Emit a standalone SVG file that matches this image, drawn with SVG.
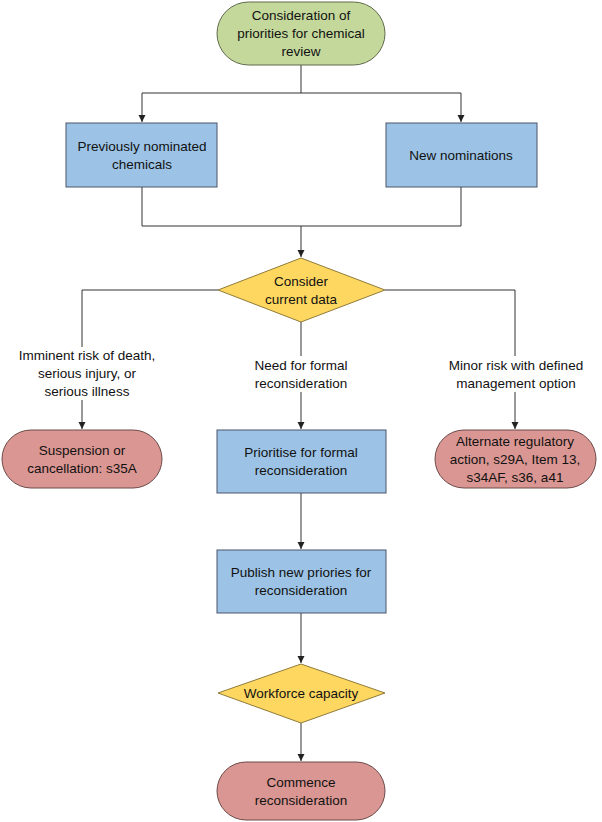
<svg xmlns="http://www.w3.org/2000/svg" width="602" height="822" viewBox="0 0 602 822">
<style>
text{font-family:"Liberation Sans",Arial,sans-serif;font-size:13.5px;fill:#111;text-anchor:middle;dominant-baseline:central}
.g{fill:#c4d89c;stroke:#5f6b4a;stroke-width:1}
.b{fill:#9cc3e5;stroke:#4a5568;stroke-width:1}
.y{fill:#fed760;stroke:#8f7b3a;stroke-width:1}
.r{fill:#da9692;stroke:#6b4a48;stroke-width:1}
.c{fill:none;stroke:#333;stroke-width:1}
</style>
<defs><marker id="a" markerWidth="8" markerHeight="8" refX="7" refY="4" orient="auto" markerUnits="userSpaceOnUse"><path d="M0,0.5 L7,4 L0,7.5 Z" fill="#222"/></marker></defs>
<rect width="602" height="822" fill="#fff"/>
<g id="connectors">
<path class="c" d="M301,65 V93 M142,93 H461"/>
<path class="c" d="M142,93 V122" marker-end="url(#a)"/>
<path class="c" d="M461,93 V122" marker-end="url(#a)"/>
<path class="c" d="M142,187 V226 H461 V187"/>
<path class="c" d="M301,226 V257" marker-end="url(#a)"/>
<path class="c" d="M218,290 H82 V347 M82,400 V429" marker-end="url(#a)"/>
<path class="c" d="M385,290 H515 V356 M515,392 V429" marker-end="url(#a)"/>
<path class="c" d="M301,322 V356 M301,392 V429" marker-end="url(#a)"/>
<path class="c" d="M301,493 V549" marker-end="url(#a)"/>
<path class="c" d="M301,613 V663" marker-end="url(#a)"/>
<path class="c" d="M301,723 V761" marker-end="url(#a)"/>
</g>
<g id="start"><rect class="g" x="217" y="2" width="168" height="63" rx="31.5"/><text x="301" y="15">Consideration of</text><text x="301" y="33">priorities for chemical</text><text x="301" y="51">review</text></g>
<g id="prev"><rect class="b" x="66" y="123" width="151" height="64"/><text x="142" y="146">Previously nominated</text><text x="142" y="164">chemicals</text></g>
<g id="new"><rect class="b" x="386" y="123" width="151" height="64"/><text x="461" y="155">New nominations</text></g>
<g id="consider"><polygon class="y" points="301,258 385,290 301,322 218,290"/><text x="301" y="281">Consider</text><text x="301" y="299">current data</text></g>
<g id="lbl1"><text x="87" y="355">Imminent risk of death,</text><text x="87" y="373">serious injury, or</text><text x="87" y="391">serious illness</text></g>
<g id="lbl2"><text x="301" y="365">Need for formal</text><text x="301" y="383">reconsideration</text></g>
<g id="lbl3"><text x="516" y="365">Minor risk with defined</text><text x="516" y="383">management option</text></g>
<g id="susp"><rect class="r" x="2" y="430" width="160" height="58" rx="29"/><text x="82" y="450">Suspension or</text><text x="82" y="468">cancellation: s35A</text></g>
<g id="prio"><rect class="b" x="217" y="430" width="169" height="63"/><text x="301" y="452">Prioritise for formal</text><text x="301" y="470">reconsideration</text></g>
<g id="alt"><rect class="r" x="435" y="430" width="161" height="58" rx="29"/><text x="515" y="441">Alternate regulatory</text><text x="515" y="459">action, s29A, Item 13,</text><text x="515" y="477">s34AF, s36, a41</text></g>
<g id="publish"><rect class="b" x="217" y="550" width="169" height="63"/><text x="301" y="572">Publish new priories for</text><text x="301" y="590">reconsideration</text></g>
<g id="workforce"><polygon class="y" points="301,664 385,693 301,723 218,693"/><text x="301" y="693">Workforce capacity</text></g>
<g id="commence"><rect class="r" x="217" y="762" width="168" height="58" rx="29"/><text x="301" y="782">Commence</text><text x="301" y="800">reconsideration</text></g>
</svg>
